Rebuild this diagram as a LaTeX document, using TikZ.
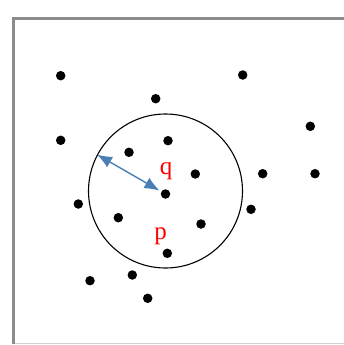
\documentclass[tikz,border=0pt]{standalone}
\usepackage{fontspec}
\setmainfont{Liberation Serif}
\usetikzlibrary{arrows.meta}
\definecolor{framegray}{HTML}{8C8C8C}
\definecolor{arrowblue}{HTML}{4A7EB5}
\begin{document}
\begin{tikzpicture}[x=1pt, y=-1pt,
    dot/.style={circle, fill=black, inner sep=0pt, minimum size=9.5pt},
    lbl/.style={text=red, font=\fontsize{25}{25}\selectfont, inner sep=0pt},
    radius arrow/.style={arrowblue, line width=1.4pt,
        {Latex[length=15pt, width=12pt]}-{Latex[length=15pt, width=12pt]}}]
    \useasboundingbox (0,0) rectangle (343,345);

    % Frame
    \draw[gray!35, line width=1pt] (13,343) -- (345,343);
    \draw[framegray, line width=3pt] (13,344) -- (13,19) -- (345,19);

    % Points
    \foreach \x/\y [count=\i] in {60.7/75.7, 155.7/98.7, 242.7/75, 60.7/140.3,
        310.3/126.3, 129/152.3, 168/140.7, 195.3/174, 262.7/173.7, 315/173.7,
        78.3/204, 118.3/217.7, 201/224, 251/209.3, 167.3/253.3, 90/280.7,
        132.3/275, 147.7/298.3}
        \node[dot] (d\i) at (\x,\y) {};
    \node[dot] (pc) at (165.5,194) {};

    % Neighbourhood
    \node[draw, circle, line width=1.1pt, inner sep=0pt, minimum size=154pt] (nb) at (165.5,191) {};
    \draw[radius arrow, shorten >=2pt] (nb.152) -- (pc);

    % Labels
    \node[lbl] (q) at (166,171.5) {q};
    \node[lbl] (p) at (160.5,236) {p};
\end{tikzpicture}
\end{document}
